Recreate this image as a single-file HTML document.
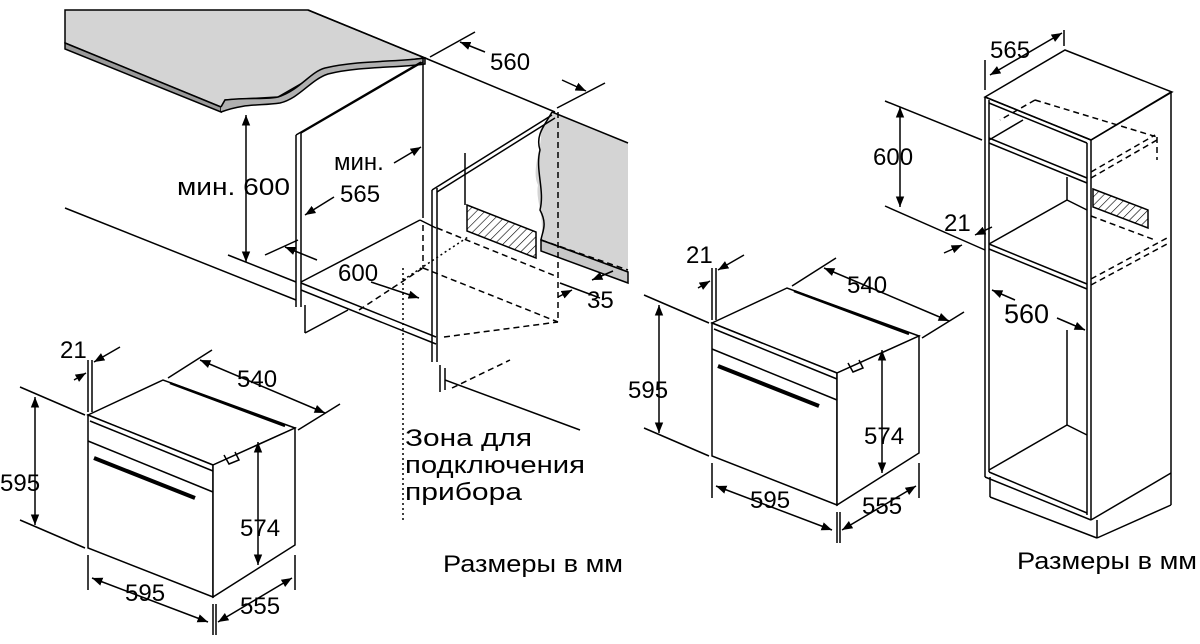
<!DOCTYPE html>
<html><head><meta charset="utf-8"><style>
html,body{margin:0;padding:0;background:#fff;}
svg{display:block}
text{font-family:"Liberation Sans",sans-serif;fill:#000;}
</style></head><body>
<svg width="1200" height="644" viewBox="0 0 1200 644" xmlns="http://www.w3.org/2000/svg">
<defs>
<pattern id="h" width="6" height="6" patternUnits="userSpaceOnUse" patternTransform="rotate(45)"><rect width="6" height="6" fill="#fff"/><line x1="0" y1="0" x2="0" y2="6" stroke="#000" stroke-width="1.2"/></pattern>
<marker id="a" viewBox="0 0 10 10" refX="10" refY="5" markerWidth="7" markerHeight="7" orient="auto-start-reverse"><path d="M0,1 L10,5 L0,9 z" fill="#000"/></marker>
<g id="oven">
<polygon points="88,415 163,380 295,428 213,465" fill="#fff"/>
<polygon points="88,415 213,465 213,597 88,548" fill="#fff"/>
<polygon points="213,465 295,428 295,545 213,597" fill="#fff"/>
<line x1="90" y1="421" x2="213" y2="471"/>
<line x1="88" y1="441" x2="213" y2="492"/>
<line x1="170" y1="383" x2="285" y2="426" stroke-width="2.5"/>
<line x1="94" y1="458" x2="195" y2="498" stroke-width="4"/>
<path d="M224,455 l5,9 l10,-4 l-4,-8" />
<line x1="35" y1="397" x2="35" y2="525" marker-start="url(#a)" marker-end="url(#a)"/>
<line x1="20" y1="387" x2="85" y2="415"/><line x1="20" y1="520" x2="85" y2="548"/>
<line x1="258" y1="442" x2="258" y2="565" marker-start="url(#a)" marker-end="url(#a)"/>
<line x1="92" y1="578" x2="208" y2="622" marker-start="url(#a)" marker-end="url(#a)"/>
<line x1="218" y1="622" x2="292" y2="578" marker-start="url(#a)" marker-end="url(#a)"/>
<line x1="88" y1="555" x2="88" y2="590"/><line x1="213" y1="604" x2="213" y2="635"/><line x1="216" y1="604" x2="216" y2="635"/><line x1="295" y1="555" x2="295" y2="590"/>
<line x1="200" y1="360" x2="325" y2="413" marker-start="url(#a)" marker-end="url(#a)"/>
<line x1="168" y1="378" x2="212" y2="350"/><line x1="298" y1="430" x2="340" y2="404"/>
<line x1="88" y1="360" x2="88" y2="412"/><line x1="92" y1="360" x2="92" y2="412"/>
<line x1="120" y1="347" x2="94" y2="362" marker-end="url(#a)"/>
<line x1="74" y1="380" x2="86" y2="373" marker-end="url(#a)"/>
</g>
</defs>
<g stroke="#000" stroke-width="1.5" fill="none">
<polygon points="65,43 65,10 308,10 425,58 325,70 278,97 225,100 221,107" fill="#d4d4d4"/>
<polygon points="65,43 221,107 221,112 65,49" fill="#9a9a9a"/>
<path d="M221,107 L225,100 C250,97 265,100 278,97 C300,90 310,72 325,68 C360,60 400,62 425,58 L425,64 C400,68 360,66 328,74 C310,80 300,98 280,103 C260,106 245,103 221,112" fill="#b0b0b0"/>
<line x1="308" y1="10" x2="425" y2="58"/>
<line x1="425" y1="58" x2="555" y2="112"/>
<path d="M552,112 L628,143 L628,272 L541,240 C545,215 535,200 538,185 C530,170 545,140 540,130 Z" fill="#d4d4d4" stroke="none"/>
<path d="M552,112 C545,125 535,135 540,150 C535,170 545,190 540,210 C548,225 542,232 541,240 L628,272"/>
<polygon points="541,240 628,272 628,283 541,251" fill="#c8c8c8"/>
<line x1="552" y1="112" x2="628" y2="143"/>
<line x1="296" y1="135" x2="296" y2="307"/><line x1="301" y1="133" x2="301" y2="307"/>
<line x1="296" y1="135" x2="421" y2="62"/><line x1="301" y1="133" x2="423" y2="62"/>
<line x1="423" y1="58" x2="423" y2="218"/>
<line x1="65" y1="208" x2="296" y2="300"/>
<line x1="228" y1="255" x2="296" y2="282"/>
<line x1="301" y1="282" x2="420" y2="220"/>
<line x1="301" y1="283" x2="436" y2="337"/><line x1="301" y1="290" x2="436" y2="344"/>
<line x1="305" y1="305" x2="305" y2="333"/>
<line x1="305" y1="333" x2="348" y2="310"/>
<line x1="420" y1="220" x2="436" y2="228"/>
<line x1="432" y1="190" x2="432" y2="362"/><line x1="437" y1="188" x2="437" y2="362"/>
<line x1="432" y1="190" x2="552" y2="115"/><line x1="437" y1="192" x2="555" y2="118"/>
<line x1="440" y1="365" x2="440" y2="392"/><line x1="445" y1="368" x2="445" y2="390"/>
<line x1="445" y1="380" x2="580" y2="430"/>
<line x1="465" y1="153" x2="465" y2="205"/>
<polygon points="467,205 536,232 536,258 467,231" fill="url(#h)"/>
<g stroke-dasharray="6,4">
<line x1="558" y1="112" x2="558" y2="322"/>
<line x1="423" y1="225" x2="423" y2="268"/>
<line x1="437" y1="228" x2="558" y2="277"/>
<line x1="541" y1="240" x2="628" y2="270"/>
<line x1="423" y1="268" x2="558" y2="322"/>
<line x1="359" y1="310" x2="423" y2="268"/>
<line x1="444" y1="337" x2="558" y2="322"/>
<line x1="452" y1="388" x2="510" y2="360"/>
</g>
<line x1="403" y1="268" x2="403" y2="522" stroke-dasharray="2,3"/>
<line x1="403" y1="280" x2="468" y2="237" stroke-dasharray="2,3"/>
<line x1="246" y1="115" x2="246" y2="262" marker-start="url(#a)" marker-end="url(#a)"/>
<line x1="430" y1="57" x2="475" y2="32"/><line x1="557" y1="108" x2="605" y2="83"/>
<line x1="460" y1="42" x2="485" y2="52" marker-start="url(#a)"/>
<line x1="562" y1="80" x2="586" y2="91" marker-end="url(#a)"/>
<line x1="394" y1="163" x2="421" y2="147" marker-end="url(#a)"/>
<line x1="334" y1="197" x2="305" y2="215" marker-end="url(#a)"/>
<line x1="265" y1="255" x2="298" y2="240"/>
<line x1="317" y1="260" x2="285" y2="247" marker-end="url(#a)"/>
<line x1="371" y1="282" x2="419" y2="298" marker-end="url(#a)"/>
<line x1="613" y1="271" x2="592" y2="280" marker-end="url(#a)"/>
<line x1="572" y1="290" x2="558" y2="297" marker-start="url(#a)"/>
<line x1="560" y1="283" x2="600" y2="298"/>
<use href="#oven"/>
<use href="#oven" transform="translate(624,-92)"/>
<polygon points="985,97 1065,50 1070,52 1172,92 1091,140" fill="#fff"/>
<line x1="985" y1="97" x2="985" y2="477"/><line x1="989" y1="100" x2="989" y2="472"/>
<line x1="985" y1="97" x2="1091" y2="140"/><line x1="989" y1="103" x2="1087" y2="143"/>
<line x1="1087" y1="143" x2="1087" y2="515"/><line x1="1091" y1="140" x2="1091" y2="520"/>
<line x1="1171" y1="92" x2="1171" y2="505"/><line x1="1091" y1="140" x2="1171" y2="92"/>
<line x1="985" y1="477" x2="1091" y2="520"/><line x1="989" y1="472" x2="1087" y2="513"/>
<line x1="990" y1="477" x2="990" y2="497"/><line x1="990" y1="497" x2="1097" y2="538"/>
<line x1="1097" y1="520" x2="1097" y2="538"/><line x1="1097" y1="538" x2="1171" y2="505"/>
<line x1="1091" y1="520" x2="1171" y2="473"/>
<line x1="989" y1="138" x2="1087" y2="178"/><line x1="989" y1="143" x2="1087" y2="183"/>
<line x1="989" y1="140" x2="1023" y2="120"/>
<line x1="989" y1="244" x2="1087" y2="284"/><line x1="989" y1="249" x2="1087" y2="289"/>
<line x1="989" y1="244" x2="1067" y2="200"/><line x1="1067" y1="200" x2="1087" y2="210"/>
<line x1="1067" y1="177" x2="1067" y2="200"/>
<line x1="1067" y1="330" x2="1067" y2="425"/><line x1="1067" y1="425" x2="1087" y2="435"/>
<line x1="989" y1="470" x2="1067" y2="425"/>
<polygon points="1093,189 1148,210 1148,228 1093,207" fill="url(#h)"/>
<g stroke-dasharray="6,4">
<line x1="1035" y1="100" x2="1157" y2="137"/><line x1="1035" y1="100" x2="1000" y2="120"/>
<line x1="1091" y1="178" x2="1157" y2="140"/><line x1="1091" y1="172" x2="1155" y2="135"/>
<line x1="1157" y1="137" x2="1157" y2="160"/>
<line x1="1091" y1="216" x2="1155" y2="240"/>
<line x1="1091" y1="279" x2="1167" y2="238"/><line x1="1091" y1="285" x2="1167" y2="244"/>
</g>
<line x1="900" y1="107" x2="900" y2="207" marker-start="url(#a)" marker-end="url(#a)"/>
<line x1="885" y1="101" x2="982" y2="140"/><line x1="885" y1="206" x2="985" y2="250"/>
<line x1="985" y1="90" x2="985" y2="60"/><line x1="1064" y1="30" x2="1064" y2="46"/>
<line x1="990" y1="75" x2="1062" y2="33" marker-start="url(#a)" marker-end="url(#a)"/>
<line x1="944" y1="253" x2="962" y2="245" marker-end="url(#a)"/>
<line x1="992" y1="227" x2="975" y2="235" marker-end="url(#a)"/>
<line x1="1015" y1="300" x2="992" y2="290" marker-end="url(#a)"/>
<line x1="1057" y1="318" x2="1085" y2="330" marker-end="url(#a)"/>
</g>
<g font-size="24">
<text x="490" y="70">560</text>
<text x="334" y="170">мин.</text>
<text x="340" y="202">565</text>
<text x="177" y="195" textLength="113" lengthAdjust="spacingAndGlyphs">мин. 600</text>
<text x="338" y="281">600</text>
<text x="587" y="308">35</text>
<text x="405" y="446" textLength="127" lengthAdjust="spacingAndGlyphs">Зона для</text>
<text x="405" y="473" textLength="180" lengthAdjust="spacingAndGlyphs">подключения</text>
<text x="405" y="500" textLength="117" lengthAdjust="spacingAndGlyphs">прибора</text>
<text x="443" y="572" textLength="180" lengthAdjust="spacingAndGlyphs">Размеры в мм</text>
<text x="60" y="358">21</text>
<text x="237" y="387">540</text>
<text x="0" y="491">595</text>
<text x="240" y="536">574</text>
<text x="125" y="601">595</text>
<text x="240" y="614">555</text>
<text x="686" y="263">21</text>
<text x="847" y="293">540</text>
<text x="628" y="398">595</text>
<text x="864" y="444">574</text>
<text x="750" y="508">595</text>
<text x="862" y="514">555</text>
<text x="990" y="58">565</text>
<text x="873" y="165">600</text>
<text x="944" y="231">21</text>
<text x="1004" y="323" font-size="27">560</text>
<text x="1017" y="569" textLength="180" lengthAdjust="spacingAndGlyphs">Размеры в мм</text>
</g>
</svg>
</body></html>
